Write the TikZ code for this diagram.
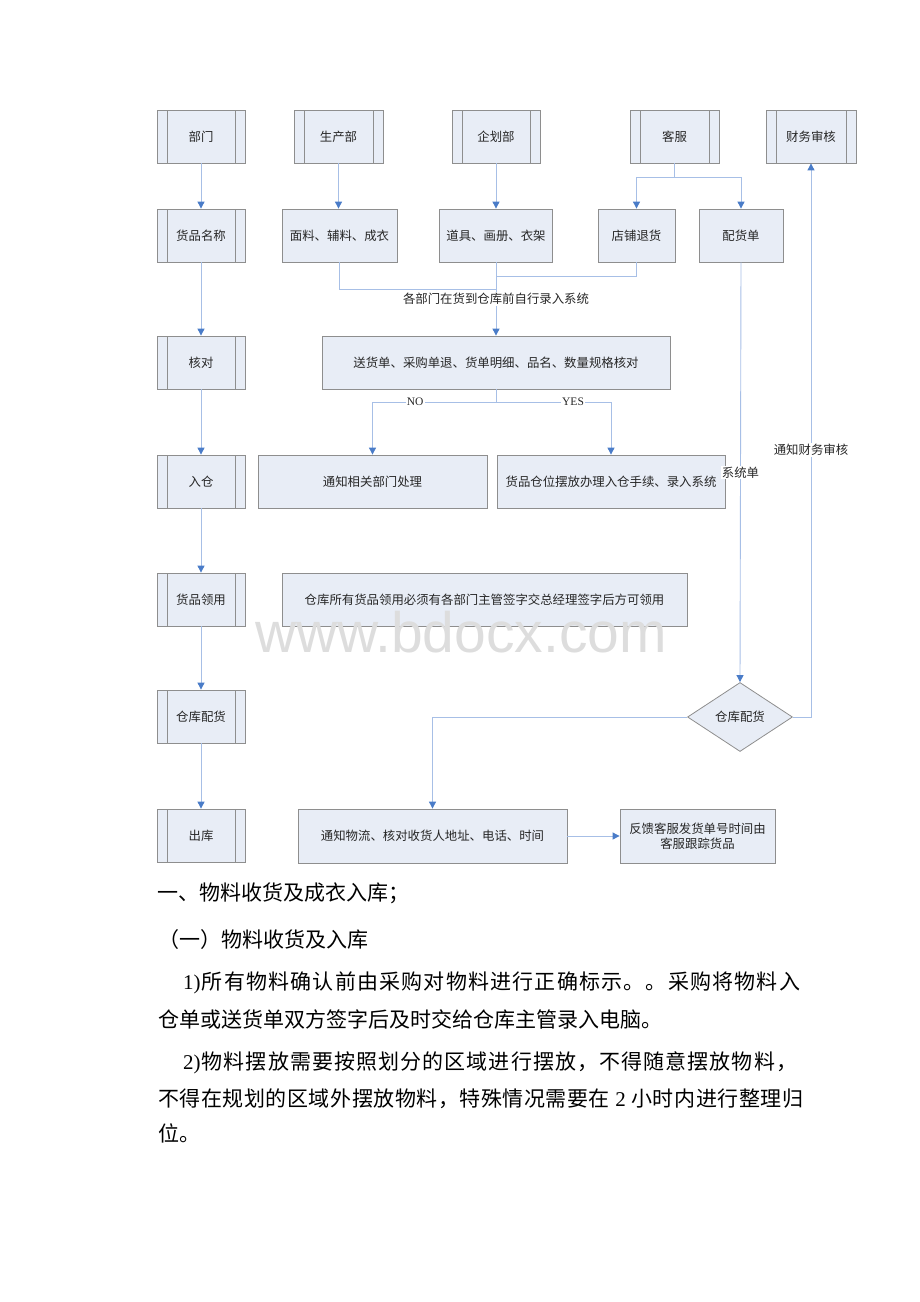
\documentclass[tikz,border=0pt]{standalone}
\usepackage{fontspec}
\setmainfont{Noto Sans CJK SC}
\newfontfamily\lat{Liberation Serif}
\newfontfamily\latsans{Liberation Sans}
\usetikzlibrary{arrows.meta,shapes.geometric}
\definecolor{boxfill}{HTML}{E8EDF6}
\definecolor{bordergray}{HTML}{8E8E8E}
\definecolor{conn}{HTML}{A7BFE6}
\definecolor{arrowblue}{HTML}{4A7CC8}
\definecolor{wmark}{HTML}{DDDDDD}
\def\spr#1{\ifx#1\relax\else#1\hfil\expandafter\spr\fi}
\begin{document}
\begin{tikzpicture}[x=1pt,y=-1pt,
  box/.style={draw=bordergray, fill=boxfill, line width=0.8pt, inner sep=0pt,
    font=\fontsize{12.4}{14.5}\selectfont, text=black!85},
  procbox/.style={box, minimum width=88pt, minimum height=53pt,
    path picture={\draw[bordergray, line width=0.8pt]
      ([xshift=10pt]path picture bounding box.north west) -- ([xshift=10pt]path picture bounding box.south west)
      ([xshift=-10pt]path picture bounding box.north east) -- ([xshift=-10pt]path picture bounding box.south east);}},
  conline/.style={draw=conn, line width=0.9pt},
  arr/.style={conline, -{Triangle[width=7pt,length=7pt,color=arrowblue]}},
  lbl/.style={fill=white, inner sep=1pt, font=\fontsize{12.4}{14.5}\selectfont, text=black!85},
  latlbl/.style={fill=white, inner sep=1pt, font=\lat\fontsize{11.5}{13}\selectfont, text=black!85},
  body/.style={anchor=west, inner sep=0pt, font=\fontsize{21}{24}\selectfont, text=black}
]
\useasboundingbox (0,0) rectangle (920,1302);

% left column
\node[procbox] (dept)  at (201,136.5) {部门};
\node[procbox] (name)  at (201,235.5) {货品名称};
\node[procbox] (check) at (201,362.5) {核对};
\node[procbox] (in)    at (201,481.5) {入仓};
\node[procbox] (use)   at (201,599.5) {货品领用};
\node[procbox] (dist)  at (201,716.5) {仓库配货};
\node[procbox] (out)   at (201,835.5) {出库};

% top row
\node[procbox, minimum width=89pt] (prod) at (338.5,136.5) {生产部};
\node[procbox] (plan) at (496,136.5) {企划部};
\node[procbox, minimum width=89pt] (cs) at (674.5,136.5) {客服};
\node[procbox, minimum width=90pt] (fin) at (811,136.5) {财务审核};

% second row
\node[box, minimum width=115pt, minimum height=53pt] (fab) at (339.5,235.5) {面料、辅料、成衣};
\node[box, minimum width=113pt, minimum height=53pt] (props) at (496,235.5) {道具、画册、衣架};
\node[box, minimum width=77pt, minimum height=53pt] (ret) at (636.5,235.5) {店铺退货};
\node[box, minimum width=84pt, minimum height=53pt] (dlist) at (741,235.5) {配货单};

% middle
\node[box, minimum width=348pt, minimum height=53pt] (verify) at (496,362.5) {送货单、采购单退、货单明细、品名、数量规格核对};
\node[box, minimum width=229pt, minimum height=53pt] (notify) at (372.5,481.5) {通知相关部门处理};
\node[box, minimum width=228pt, minimum height=53pt] (store) at (611,481.5) {货品仓位摆放办理入仓手续、录入系统};
\node[box, minimum width=405pt, minimum height=53pt] (rule) at (484.5,599.5) {仓库所有货品领用必须有各部门主管签字交总经理签字后方可领用};
\node[box, shape=diamond, minimum width=105pt, minimum height=69pt, aspect=1.52] (dia) at (740,717) {仓库配货};
\node[box, minimum width=269pt, minimum height=54pt] (logi) at (432.5,836) {通知物流、核对收货人地址、电话、时间};
\node[box, minimum width=155pt, minimum height=54pt, align=center] (fb) at (697.5,836) {反馈客服发货单号时间由\\客服跟踪货品};

% left column connectors
\draw[arr] (dept) -- (name);
\draw[arr] (name) -- (check);
\draw[arr] (check) -- (in);
\draw[arr] (in) -- (use);
\draw[arr] (use) -- (dist);
\draw[arr] (dist) -- (out);

% top connectors
\draw[arr] (prod.south) -- (prod.south |- fab.north);
\draw[arr] (plan) -- (props);
\coordinate (csj) at (674.5,177);
\draw[conline] (cs.south) -- (csj);
\draw[arr] (csj) -| (ret.north);
\draw[arr] (csj) -| (dlist.north);

% merge to verify
\coordinate (j1) at (496,289);
\coordinate (j2) at (496,276);
\draw[conline] (fab.south) |- (j1);
\draw[conline] (ret.south) |- (j2);
\draw[arr] (props.south) -- node[lbl, pos=0.5] {各部门在货到仓库前自行录入系统} (verify.north);

% NO / YES
\coordinate (j3) at (496,402);
\draw[conline] (verify.south) -- (j3);
\draw[arr] (j3) -| node[latlbl, pos=0.327] {NO} (notify.north);
\draw[arr] (j3) -| node[latlbl, pos=0.335] {YES} (store.north);

% right side
\draw[arr] (dlist.south) -- node[lbl, pos=0.5] {系统单} (dia.north);
\draw[arr] (dia.east) -| node[lbl, pos=0.741] {通知财务审核} (fin.south);
\draw[arr] (dia.west) -| (logi.north);
\draw[arr] (logi.east) -- (fb.west);

% body text
\node[body] (t1) at (157,893) {一、物料收货及成衣入库；};
\node[body] (t2) at (158,940) {（一）物料收货及入库};
\node[body] (t3) at (183,983) {\makebox[617pt][s]{{\lat 1)}\hfil\spr 所有物料确认前由采购对物料进行正确标示。。采购将物料入\relax\unskip}};
\node[body] (t4) at (158,1019) {仓单或送货单双方签字后及时交给仓库主管录入电脑。};
\node[body] (t5) at (183,1063) {\makebox[614pt][s]{{\lat 2)}\hfil\spr 物料摆放需要按照划分的区域进行摆放，不得随意摆放物料，\relax\unskip}};
\node[body] (t6) at (158,1099) {\makebox[645pt][s]{\spr 不得在规划的区域外摆放物料，特殊情况需要在\relax\hspace{5pt}{\lat 2}\hspace{5pt}\hfil\spr 小时内进行整理归\relax\unskip}};
\node[body] (t7) at (158,1133) {位。};

% watermark
\node[anchor=base, inner sep=0pt, text=wmark, font=\latsans\fontsize{57}{60}\selectfont] (wm) at (461,652) {www.bdocx.com};
\end{tikzpicture}
\end{document}
